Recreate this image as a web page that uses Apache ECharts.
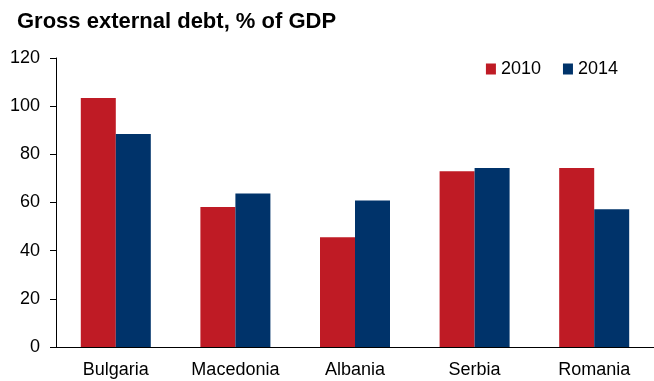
<!DOCTYPE html>
<html>
<head>
<meta charset="utf-8">
<script src="https://cdn.jsdelivr.net/npm/echarts@6/dist/echarts.min.js"></script>
<style>
html,body{margin:0;padding:0;background:#fff;}
#chart{width:654px;height:381px;}
</style>
</head>
<body>
<div id="chart"></div>
<script>
const categories = ['Bulgaria', 'Macedonia', 'Albania', 'Serbia', 'Romania'];
const seriesNames = ['2010', '2014'];
const values2010 = [103.4, 58.1, 45.6, 73.0, 74.3];
const values2014 = [88.4, 63.7, 60.8, 74.3, 57.2];
const yTicks = [0, 20, 40, 60, 80, 100, 120];

const font = 'Liberation Sans, Arial, sans-serif';
const chart = echarts.init(document.getElementById('chart'), null, {renderer: 'canvas'});
chart.setOption({
  animation: false,
  backgroundColor: '#ffffff',
  title: {
    text: 'Gross external debt, % of GDP',
    left: 12,
    top: 6,
    textStyle: {fontFamily: font, fontWeight: 'bold', fontSize: 22, color: '#000'}
  },
  legend: {
    data: seriesNames,
    right: 31,
    top: 55,
    itemWidth: 10,
    itemHeight: 11,
    itemGap: 22,
    icon: 'rect',
    textStyle: {fontFamily: font, fontSize: 18, color: '#000'}
  },
  grid: {left: 56, top: 58, height: 289, width: 603.5, containLabel: false},
  xAxis: {
    type: 'category',
    data: categories,
    axisLine: {lineStyle: {color: '#000', width: 1}},
    axisTick: {show: false},
    axisLabel: {fontFamily: font, fontSize: 18, color: '#000', margin: 14}
  },
  yAxis: {
    type: 'value',
    min: yTicks[0],
    max: yTicks[yTicks.length - 1],
    interval: 20,
    axisLine: {show: true, lineStyle: {color: '#000', width: 1}},
    axisTick: {show: true, length: 6, lineStyle: {color: '#000'}},
    splitLine: {show: false},
    axisLabel: {fontFamily: font, fontSize: 18, color: '#000', margin: 16}
  },
  series: [
    {name: seriesNames[0], type: 'bar', data: values2010, barWidth: 35, barGap: '0%',
     itemStyle: {color: '#BF1B25'}},
    {name: seriesNames[1], type: 'bar', data: values2014, barWidth: 35, barGap: '0%',
     itemStyle: {color: '#00336A'}}
  ]
});
</script>
</body>
</html>
